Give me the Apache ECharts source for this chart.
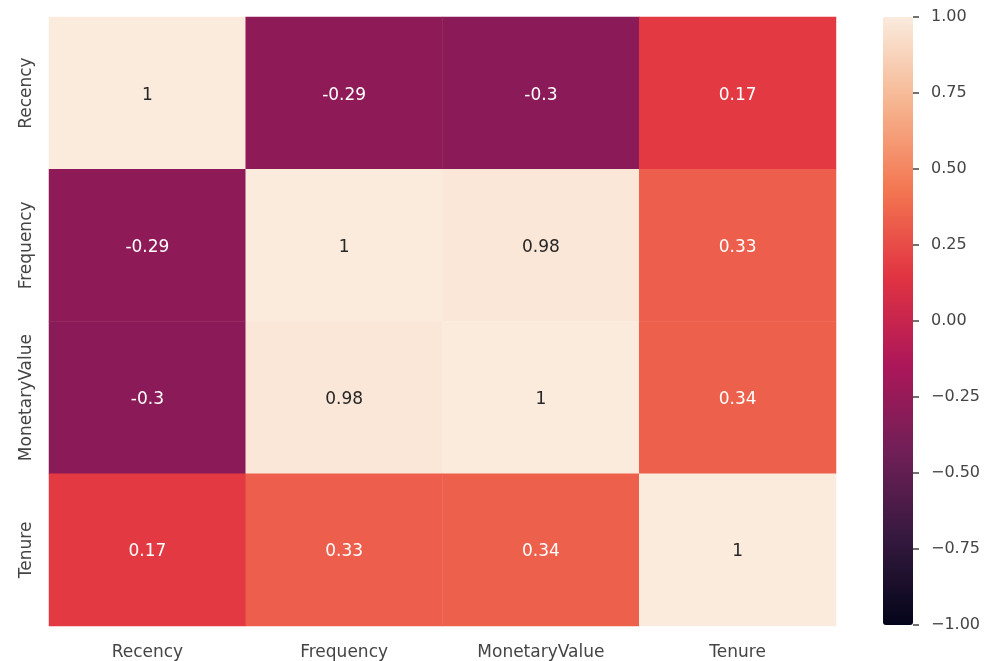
<!DOCTYPE html>
<html>
<head>
<meta charset="utf-8">
<script src="https://cdn.jsdelivr.net/npm/echarts@6/dist/echarts.min.js"></script>
<style>
html,body{margin:0;padding:0;background:#fff;}
#chart{width:989px;height:661px;}
</style>
</head>
<body>
<div id="chart"></div>
<script>
const categories = ['Recency', 'Frequency', 'MonetaryValue', 'Tenure'];
const rowRecency = [1, -0.29, -0.3, 0.17];
const rowFrequency = [-0.29, 1, 0.98, 0.33];
const rowMonetary = [-0.3, 0.98, 1, 0.34];
const rowTenure = [0.17, 0.33, 0.34, 1];
const rows = [rowRecency, rowFrequency, rowMonetary, rowTenure];
const colorbarTicks = [-1, -0.75, -0.5, -0.25, 0, 0.25, 0.5, 0.75, 1];
const rocket = ['#03051A', '#35193E', '#701F57', '#AD1759', '#E13342', '#F37651', '#F6B48F', '#FAEBDD'];

const FONT = 'DejaVu Sans';
const data = [];
rows.forEach((row, r) => {
  row.forEach((v, c) => {
    data.push({
      value: [c, r, v],
      label: { color: v > 0.6 ? '#262626' : '#ffffff' }
    });
  });
});

const chart = echarts.init(document.getElementById('chart'));
chart.setOption({
  animation: false,
  backgroundColor: '#fff',
  grid: [
    { left: 49, top: 17, width: 787, height: 609 },
    { left: 883, top: 17, width: 30, height: 608 }
  ],
  xAxis: [
    {
      type: 'category', gridIndex: 0, data: categories,
      axisLine: { show: false }, axisTick: { show: false }, splitLine: { show: false },
      axisLabel: { fontFamily: FONT, fontSize: 17, color: '#444', margin: 18, interval: 0 }
    },
    {
      type: 'value', gridIndex: 1, show: false, min: 0, max: 1
    }
  ],
  yAxis: [
    {
      type: 'category', gridIndex: 0, data: categories, inverse: true,
      axisLine: { show: false }, axisTick: { show: false }, splitLine: { show: false },
      axisLabel: { fontFamily: FONT, fontSize: 17, color: '#444', rotate: 90, margin: 14, interval: 0 }
    },
    {
      type: 'value', gridIndex: 1, position: 'right', min: -1, max: 1, interval: 0.25,
      axisLine: { show: false, onZero: false }, splitLine: { show: false },
      axisTick: { show: true, length: 6, lineStyle: { color: '#444', width: 1.5 } },
      axisLabel: {
        fontFamily: FONT, fontSize: 16, color: '#444', margin: 18,
        formatter: v => (v < 0 ? '\u2212' + Math.abs(v).toFixed(2) : v.toFixed(2))
      }
    }
  ],
  visualMap: {
    type: 'continuous', min: -1, max: 1, seriesIndex: 0,
    left: 883, top: 17, itemWidth: 30, itemHeight: 608, padding: 0,
    calculable: false, hoverLink: false, text: null, showLabel: false,
    inRange: { color: rocket }
  },
  series: [{
    type: 'heatmap', xAxisIndex: 0, yAxisIndex: 0,
    data: data,
    label: {
      show: true, fontFamily: FONT, fontSize: 17, offset: [0, 2],
      formatter: p => String(p.value[2])
    },
    itemStyle: { borderWidth: 0 },
    emphasis: { disabled: true }
  }]
});
</script>
</body>
</html>
